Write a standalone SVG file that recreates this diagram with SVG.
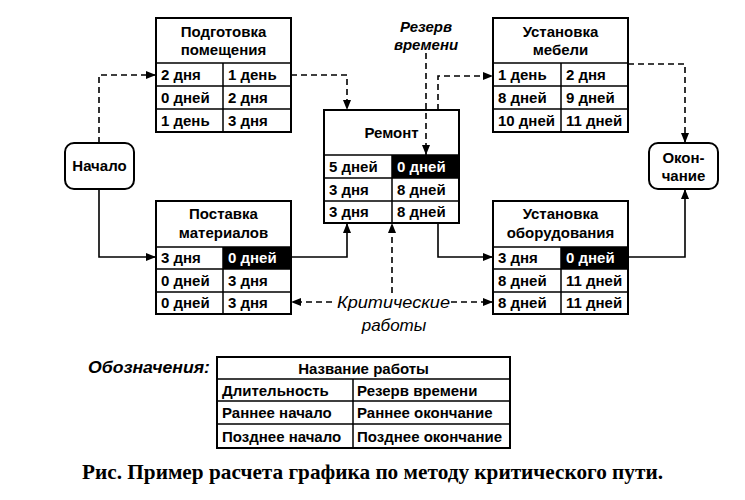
<svg xmlns="http://www.w3.org/2000/svg" width="745" height="500" viewBox="0 0 745 500">
<style>
.box{fill:#fff;stroke:#000;stroke-width:2}
.ln{stroke:#000;stroke-width:1.5;fill:none}
.blk{fill:#000}
.t{font-family:"Liberation Sans",Arial,sans-serif;font-weight:bold;font-size:15px;fill:#000}
.tw{font-family:"Liberation Sans",Arial,sans-serif;font-weight:bold;font-size:15px;fill:#fff}
.c{text-anchor:middle}
.solid{stroke:#000;stroke-width:1.6;fill:none}
.dash{stroke:#000;stroke-width:1.6;fill:none;stroke-dasharray:6,4}
.it{font-family:"Liberation Sans",Arial,sans-serif;font-style:italic;fill:#000}
</style>
<defs>
<marker id="ah" viewBox="0 0 10 8" refX="10" refY="4" markerWidth="10" markerHeight="8" markerUnits="userSpaceOnUse" orient="auto">
<path d="M0,0 L10,4 L0,8 Z" fill="#000"/>
</marker>
</defs>
<rect width="745" height="500" fill="#fff"/>

<g id="start">
<rect x="65" y="143" width="69" height="46" rx="9" class="box"/>
<text x="99.5" y="171" class="t c">Начало</text>
</g>

<g id="end">
<rect x="649" y="143" width="69" height="46" rx="9" class="box"/>
<text x="683.5" y="163" class="t c">Окон-</text>
<text x="683.5" y="181" class="t c">чание</text>
</g>

<g id="prep">
<rect x="156" y="18" width="135" height="114" class="box"/>
<path class="ln" d="M156,63H291M156,86H291M156,109H291M223,63V132"/>
<text x="223.5" y="37" class="t c">Подготовка</text>
<text x="223.5" y="55" class="t c">помещения</text>
<text x="161" y="80" class="t">2 дня</text><text x="228" y="80" class="t">1 день</text>
<text x="161" y="103" class="t">0 дней</text><text x="228" y="103" class="t">2 дня</text>
<text x="161" y="126" class="t">1 день</text><text x="228" y="126" class="t">3 дня</text>
</g>

<g id="furniture">
<rect x="493" y="18" width="135" height="114" class="box"/>
<path class="ln" d="M493,63H628M493,86H628M493,109H628M561,63V132"/>
<text x="560.5" y="37" class="t c">Установка</text>
<text x="560.5" y="55" class="t c">мебели</text>
<text x="498" y="80" class="t">1 день</text><text x="566" y="80" class="t">2 дня</text>
<text x="498" y="103" class="t">8 дней</text><text x="566" y="103" class="t">9 дней</text>
<text x="498" y="126" class="t">10 дней</text><text x="566" y="126" class="t">11 дней</text>
</g>

<g id="repair">
<rect x="324" y="110" width="135" height="113" class="box"/>
<rect x="392" y="155" width="67" height="23" class="blk"/>
<path class="ln" d="M324,155H459M324,178H459M324,201H459M392,155V223"/>
<text x="391.5" y="138" class="t c">Ремонт</text>
<text x="329" y="172" class="t">5 дней</text><text x="397" y="172" class="tw">0 дней</text>
<text x="329" y="195" class="t">3 дня</text><text x="397" y="195" class="t">8 дней</text>
<text x="329" y="217" class="t">3 дня</text><text x="397" y="217" class="t">8 дней</text>
</g>

<g id="supply">
<rect x="156" y="201" width="135" height="113" class="box"/>
<rect x="223" y="247" width="68" height="22" class="blk"/>
<path class="ln" d="M156,247H291M156,269H291M156,292H291M223,247V314"/>
<text x="223.5" y="219" class="t c">Поставка</text>
<text x="223.5" y="238" class="t c">материалов</text>
<text x="161" y="263" class="t">3 дня</text><text x="228" y="263" class="tw">0 дней</text>
<text x="161" y="286" class="t">0 дней</text><text x="228" y="286" class="t">3 дня</text>
<text x="161" y="308" class="t">0 дней</text><text x="228" y="308" class="t">3 дня</text>
</g>

<g id="equipment">
<rect x="493" y="201" width="135" height="113" class="box"/>
<rect x="561" y="247" width="67" height="22" class="blk"/>
<path class="ln" d="M493,247H628M493,269H628M493,292H628M561,247V314"/>
<text x="560.5" y="219" class="t c">Установка</text>
<text x="560.5" y="238" class="t c">оборудования</text>
<text x="498" y="263" class="t">3 дня</text><text x="566" y="263" class="tw">0 дней</text>
<text x="498" y="286" class="t">8 дней</text><text x="566" y="286" class="t">11 дней</text>
<text x="498" y="308" class="t">8 дней</text><text x="566" y="308" class="t">11 дней</text>
</g>

<g id="connectors">
<path class="dash" d="M99,143V75H156" marker-end="url(#ah)"/>
<path class="dash" d="M291,75H347V110" marker-end="url(#ah)"/>
<path class="dash" d="M438,110V76H493" marker-end="url(#ah)"/>
<path class="dash" d="M628,64H685V143" marker-end="url(#ah)"/>
<path class="solid" d="M99,189V257H156" marker-end="url(#ah)"/>
<path class="solid" d="M291,257H347V223" marker-end="url(#ah)"/>
<path class="solid" d="M438,223V257H493" marker-end="url(#ah)"/>
<path class="solid" d="M628,257H685V189" marker-end="url(#ah)"/>
<path class="dash" d="M426,53V155" marker-end="url(#ah)"/>
<path class="dash" d="M332,302H291" marker-end="url(#ah)"/>
<path class="dash" d="M451,302H493" marker-end="url(#ah)"/>
<path class="dash" d="M392,293V223" stroke-dasharray="4,3" marker-end="url(#ah)"/>
</g>

<g id="reserve-label">
<text x="426" y="32" class="it c" font-weight="bold" font-size="15">Резерв</text>
<text x="426" y="50" class="it c" font-weight="bold" font-size="15">времени</text>
</g>

<g id="critical-label">
<text x="337" y="308" class="it" font-size="17" textLength="113" lengthAdjust="spacingAndGlyphs">Критические</text>
<text x="394" y="331" class="it c" font-size="17">работы</text>
</g>

<g id="legend">
<text x="88" y="373" class="it" font-weight="bold" font-size="17" textLength="122" lengthAdjust="spacingAndGlyphs">Обозначения:</text>
<rect x="217" y="357" width="293" height="91" class="box"/>
<path class="ln" d="M217,379H510M217,401H510M217,424H510M353,379V448"/>
<text x="363.5" y="374" class="t c">Название работы</text>
<text x="222" y="396" class="t">Длительность</text><text x="357" y="396" class="t">Резерв времени</text>
<text x="222" y="418" class="t">Раннее начало</text><text x="357" y="418" class="t">Раннее окончание</text>
<text x="222" y="442" class="t">Позднее начало</text><text x="357" y="442" class="t">Позднее окончание</text>
</g>

<text x="82" y="479" font-family="'Liberation Serif','Times New Roman',serif" font-weight="bold" font-size="21" textLength="581" lengthAdjust="spacingAndGlyphs">Рис.  Пример расчета графика по методу критического пути.</text>
</svg>
